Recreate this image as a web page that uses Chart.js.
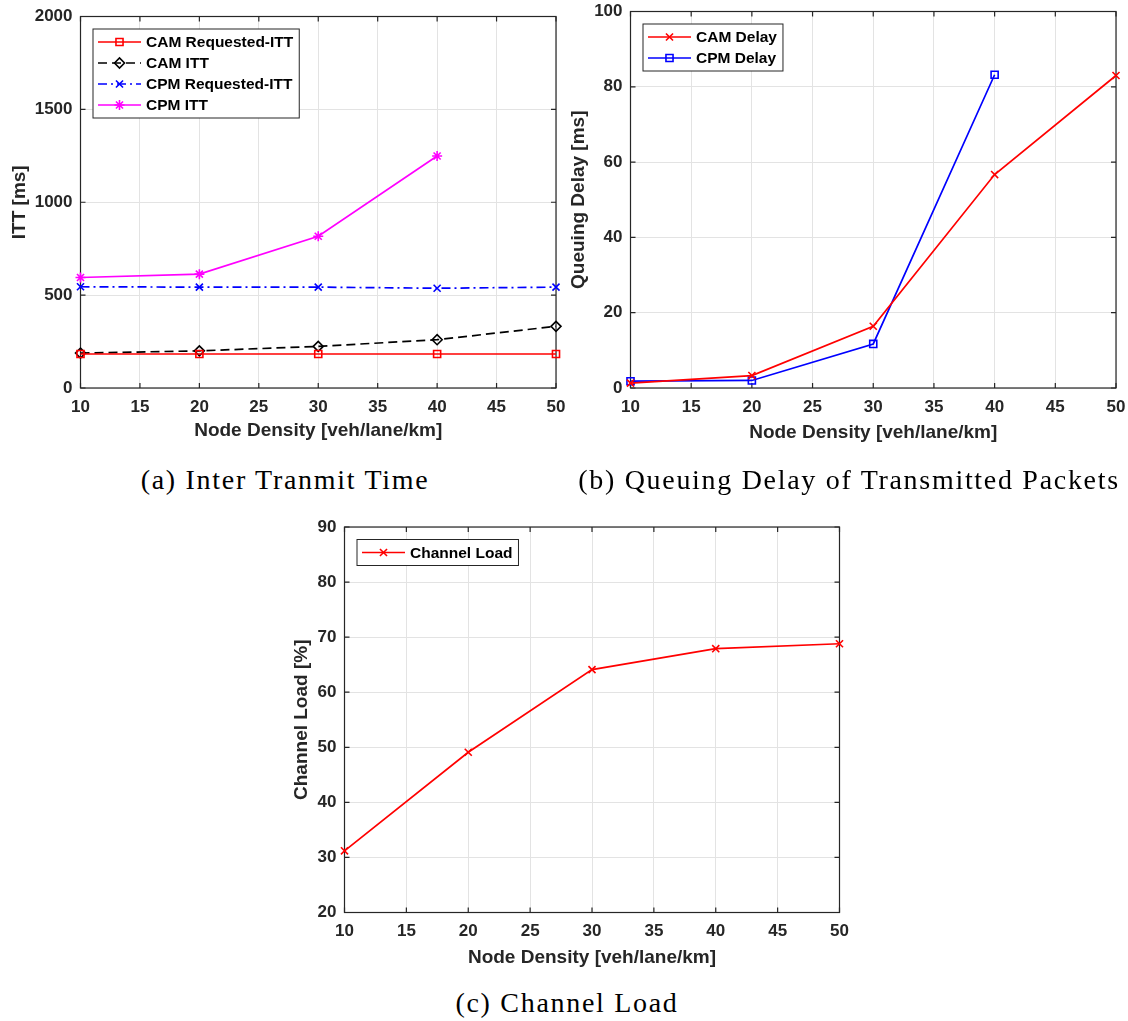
<!DOCTYPE html>
<html>
<head>
<meta charset="utf-8">
<script src="https://cdn.jsdelivr.net/npm/chart.js@4.4.0/dist/chart.umd.min.js"></script>
<style>
  body { margin: 0; background: #fff; width: 1128px; height: 1021px; position: relative; overflow: hidden; }
  canvas { position: absolute; }
  .cap { position: absolute; font-family: "Liberation Serif", serif; font-size: 28px; letter-spacing: 1.7px;
         color: #000; white-space: nowrap; line-height: 32px; transform: translateX(-50%); }
</style>
</head>
<body>
<canvas id="chartA" width="570" height="450" style="left:0;top:0"></canvas>
<canvas id="chartB" width="568" height="450" style="left:560px;top:0"></canvas>
<canvas id="chartC" width="580" height="480" style="left:280px;top:500px"></canvas>
<div class="cap" style="left:285px;top:464px">(a) Inter Tranmit Time</div>
<div class="cap" style="left:849px;top:464px">(b) Queuing Delay of Transmitted Packets</div>
<div class="cap" style="left:567px;top:987px">(c) Channel Load</div>
<script>
// node density on x
const densities = [10, 20, 30, 40, 50];
const xTickValues = [10, 15, 20, 25, 30, 35, 40, 45, 50];

// (a) inter transmit time [ms]
const camRequestedItt = [183, 183, 183, 183, 183];
const camItt = [188, 200, 224, 260, 332];
const cpmRequestedItt = [545, 543, 543, 537, 543];
const cpmItt = [595, 613, 817, 1249, null];
const ittTickValues = [0, 500, 1000, 1500, 2000];

// (b) queuing delay [ms]
const camDelay = [1.3, 3.3, 16.4, 56.7, 83.0];
const cpmDelay = [1.8, 2.0, 11.7, 83.2, null];
const delayTickValues = [0, 20, 40, 60, 80, 100];

// (c) channel load [%]
const channelLoad = [31.2, 49.1, 64.1, 67.9, 68.8];
const loadTickValues = [20, 30, 40, 50, 60, 70, 80, 90];

const FONT = '"Liberation Sans", Arial, Helvetica, sans-serif';
const AXIS_COLOR = '#262626';

function pts(values) {
    return densities.map((d, i) => ({ x: d, y: values[i] }));
}

function series(label, values, color, pointStyle, dash) {
    return {
        label: label,
        data: pts(values),
        borderColor: color,
        backgroundColor: 'rgba(0,0,0,0)',
        borderWidth: 1.7,
        borderDash: dash || [],
        pointStyle: pointStyle,
        pointRadius: 5,
        pointBorderWidth: 1.6,
        pointBorderColor: color,
        pointBackgroundColor: 'rgba(0,0,0,0)',
        clip: false,
        spanGaps: false
    };
}

// matlab style box with inward ticks
const boxPlugin = {
    id: 'matlabBox',
    beforeDatasetsDraw(chart) {
        const { ctx, chartArea: a, scales } = chart;
        ctx.save();
        ctx.strokeStyle = AXIS_COLOR;
        ctx.lineWidth = 1.2;
        ctx.strokeRect(a.left, a.top, a.right - a.left, a.bottom - a.top);
        ctx.beginPath();
        scales.x.ticks.forEach(t => {
            const px = scales.x.getPixelForValue(t.value);
            ctx.moveTo(px, a.bottom); ctx.lineTo(px, a.bottom - 5);
            ctx.moveTo(px, a.top); ctx.lineTo(px, a.top + 5);
        });
        scales.y.ticks.forEach(t => {
            const py = scales.y.getPixelForValue(t.value);
            ctx.moveTo(a.left, py); ctx.lineTo(a.left + 5, py);
            ctx.moveTo(a.right, py); ctx.lineTo(a.right - 5, py);
        });
        ctx.stroke();
        ctx.restore();
    }
};

// legend inside the plot, top left
const legendPlugin = {
    id: 'boxLegend',
    afterDraw(chart) {
        const { ctx, chartArea: a } = chart;
        const items = chart.data.datasets;
        ctx.save();
        ctx.font = 'bold 15.5px ' + FONT;
        const textW = Math.max(...items.map(d => ctx.measureText(d.label).width));
        const bx = a.left + 12.5, by = a.top + 12.5;
        const bw = 53 + textW + 6, bh = 26 + (items.length - 1) * 21;
        ctx.fillStyle = '#fff';
        ctx.fillRect(bx, by, bw, bh);
        ctx.strokeStyle = AXIS_COLOR;
        ctx.lineWidth = 1;
        ctx.strokeRect(bx, by, bw, bh);
        items.forEach((d, i) => {
            const cy = by + 13 + i * 21;
            ctx.strokeStyle = d.borderColor;
            ctx.lineWidth = d.borderWidth;
            ctx.setLineDash(d.borderDash);
            ctx.beginPath();
            ctx.moveTo(bx + 5, cy);
            ctx.lineTo(bx + 48, cy);
            ctx.stroke();
            ctx.setLineDash([]);
            ctx.fillStyle = 'rgba(0,0,0,0)';
            ctx.lineWidth = d.pointBorderWidth;
            Chart.helpers.drawPoint(ctx, { pointStyle: d.pointStyle, radius: d.pointRadius, borderWidth: d.pointBorderWidth, rotation: 0 }, bx + 26.5, cy);
            ctx.fillStyle = '#000';
            ctx.textBaseline = 'middle';
            ctx.textAlign = 'left';
            ctx.fillText(d.label, bx + 53, cy + 1);
        });
        ctx.restore();
    }
};

function makeChart(id, datasets, cfg) {
    const ctx = document.getElementById(id).getContext('2d');
    return new Chart(ctx, {
        type: 'line',
        data: { datasets: datasets },
        options: {
            responsive: false,
            animation: false,
            devicePixelRatio: 1,
            layout: { padding: { top: cfg.padTop, right: cfg.padRight, left: 0, bottom: 0 } },
            plugins: { legend: { display: false }, tooltip: { enabled: false } },
            scales: {
                x: {
                    type: 'linear',
                    min: 10, max: 50,
                    afterBuildTicks: s => { s.ticks = xTickValues.map(v => ({ value: v })); },
                    afterFit: s => { s.height = cfg.xHeight; s.paddingLeft = 0; s.paddingRight = 0; },
                    grid: { color: '#e3e3e3', drawTicks: false },
                    border: { display: false },
                    ticks: { color: AXIS_COLOR, padding: 9, callback: v => String(v),
                             font: { family: FONT, size: 17, weight: 'bold' } },
                    title: { display: true, text: 'Node Density [veh/lane/km]', color: AXIS_COLOR,
                             padding: { bottom: cfg.xTitlePad, top: 0 },
                             font: { family: FONT, size: 19, weight: 'bold' } }
                },
                y: {
                    type: 'linear',
                    min: cfg.yTicks[0], max: cfg.yTicks[cfg.yTicks.length - 1],
                    afterBuildTicks: s => { s.ticks = cfg.yTicks.map(v => ({ value: v })); },
                    afterFit: s => { s.width = cfg.yWidth; s.paddingTop = 0; s.paddingBottom = 0; },
                    grid: { color: '#e3e3e3', drawTicks: false },
                    border: { display: false },
                    ticks: { color: AXIS_COLOR, padding: 8, callback: v => String(v),
                             font: { family: FONT, size: 17, weight: 'bold' } },
                    title: { display: true, text: cfg.yTitle, color: AXIS_COLOR,
                             padding: { top: cfg.yTitlePad, bottom: 0 },
                             font: { family: FONT, size: 19, weight: 'bold' } }
                }
            }
        },
        plugins: [boxPlugin, legendPlugin]
    });
}

makeChart('chartA', [
    series('CAM Requested-ITT', camRequestedItt, '#ff0000', 'rect'),
    series('CAM ITT', camItt, '#000000', 'rectRot', [9, 5]),
    series('CPM Requested-ITT', cpmRequestedItt, '#0000ff', 'crossRot', [9, 4, 2, 4]),
    series('CPM ITT', cpmItt, '#ff00ff', 'star')
], { padTop: 16.5, padRight: 14, xHeight: 62, yWidth: 80.5, xTitlePad: 7.6, yTitlePad: 8.6,
     yTicks: ittTickValues, yTitle: 'ITT [ms]' });

makeChart('chartB', [
    series('CAM Delay', camDelay, '#ff0000', 'crossRot'),
    series('CPM Delay', cpmDelay, '#0000ff', 'rect')
], { padTop: 11.5, padRight: 12, xHeight: 62, yWidth: 70.5, xTitlePad: 5.6, yTitlePad: 7.6,
     yTicks: delayTickValues, yTitle: 'Queuing Delay [ms]' });

makeChart('chartC', [
    series('Channel Load', channelLoad, '#ff0000', 'crossRot')
], { padTop: 27, padRight: 20.5, xHeight: 67.5, yWidth: 64.5, xTitlePad: 10.6, yTitlePad: 10.6,
     yTicks: loadTickValues, yTitle: 'Channel Load [%]' });
</script>
</body>
</html>
